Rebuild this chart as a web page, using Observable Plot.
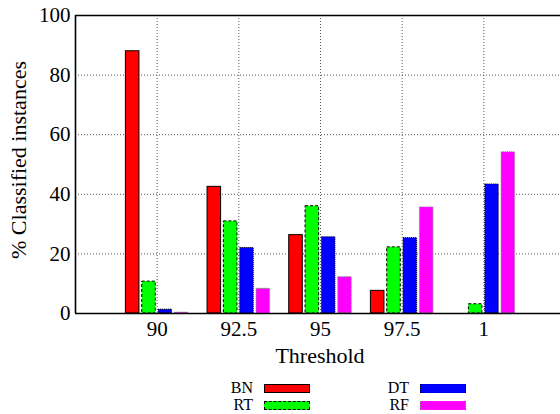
<!DOCTYPE html>
<html>
<head>
<meta charset="utf-8">
<script src="https://cdn.jsdelivr.net/npm/d3@7"></script>
<script src="https://cdn.jsdelivr.net/npm/@observablehq/plot@0.6"></script>
<style>
  html, body { margin: 0; padding: 0; background: #fff; }
  #wrap { position: relative; width: 560px; height: 414px; overflow: hidden; font-family: "Liberation Serif", "Times New Roman", Times, serif; }
  #wrap svg text { font-family: "Liberation Serif", "Times New Roman", Times, serif !important; }
  .lg-label { position: absolute; font-size: 16px; line-height: 16px; text-align: right; width: 40px; color: #000; }
  .lg-sw { position: absolute; width: 44px; height: 7px; }
</style>
</head>
<body>
<div id="wrap"></div>
<script>
// ---- data ----
const thresholds = ["90", "92.5", "95", "97.5", "1"];
const BN = [88.0, 42.5, 26.3, 7.6, 0];
const RT = [10.7, 30.9, 36.0, 22.2, 3.1];
const DT = [1.3, 22.0, 25.6, 25.3, 43.3];
const RF = [0.3, 8.3, 12.2, 35.6, 54.1];
const yTicks = [0, 20, 40, 60, 80, 100];

const FONT = "'Liberation Serif', 'Times New Roman', Times, serif";

const series = [
  {name: "BN", values: BN, fill: "#ff0000", stroke: "#000", dash: null, off: -0.3},
  {name: "RT", values: RT, fill: "#00ff00", stroke: "#000", dash: "3,2", off: -0.1},
  {name: "DT", values: DT, fill: "#0000ff", stroke: "#000", dash: "1,1", off: 0.1},
  {name: "RF", values: RF, fill: "#ff00ff", stroke: "#888", dash: "1,1", off: 0.3}
];
const hw = 0.083;
const idx = thresholds.map((t, i) => i);

const barMarks = series.map(s => Plot.rectY(
  thresholds.map((t, i) => ({i, t, v: s.values[i]})),
  {
    x1: d => d.i + s.off - hw,
    x2: d => d.i + s.off + hw,
    y1: 0,
    y2: "v",
    fill: s.fill,
    stroke: s.stroke,
    strokeWidth: 1,
    strokeDasharray: s.dash
  }
));

const chart = Plot.plot({
  width: 560,
  height: 372,
  marginTop: 15,
  marginLeft: 75,
  marginBottom: 59,
  marginRight: 0,
  style: {fontFamily: FONT, fontSize: "21px", background: "#fff", color: "#000"},
  x: {type: "linear", domain: [-1, 5], range: [75, 565]},
  y: {domain: [0, 100], range: [313, 15]},
  marks: [
    Plot.ruleY([20, 40, 60, 80], {stroke: "#555", strokeDasharray: "1,2", strokeWidth: 1}),
    Plot.ruleX(idx, {stroke: "#555", strokeDasharray: "1,2", strokeWidth: 1}),
    ...barMarks,
    Plot.ruleY([0, 100], {stroke: "#000", strokeWidth: 1.6}),
    Plot.ruleX([-1], {stroke: "#000", strokeWidth: 1.6}),
    Plot.axisY({ticks: yTicks, tickSize: 0, tickPadding: 5, label: null, fontSize: 21}),
    Plot.axisX({ticks: idx, tickSize: 0, tickPadding: 8, tickFormat: i => thresholds[i], label: null, fontSize: 21})
  ]
});

const wrap = document.getElementById("wrap");
wrap.appendChild(chart);

const svg = d3.select(chart);
svg.append("text")
  .attr("x", 320).attr("y", 355)
  .attr("text-anchor", "middle").attr("dominant-baseline", "central")
  .attr("font-family", FONT).attr("font-size", 22)
  .attr("fill", "#000")
  .text("Threshold");
svg.append("text")
  .attr("transform", "translate(18,160) rotate(-90)")
  .attr("text-anchor", "middle").attr("dominant-baseline", "central")
  .attr("font-family", FONT).attr("font-size", 22)
  .attr("fill", "#000")
  .text("% Classified instances");

// ---- legend (HTML, below the SVG) ----
const legendPos = [
  {name: "BN", lx: 213, sx: 264, y: 384},
  {name: "RT", lx: 213, sx: 264, y: 401},
  {name: "DT", lx: 369, sx: 420, y: 384},
  {name: "RF", lx: 369, sx: 420, y: 401}
];
legendPos.forEach(p => {
  const s = series.find(d => d.name === p.name);
  const lab = document.createElement("div");
  lab.className = "lg-label";
  lab.style.left = p.lx + "px";
  lab.style.top = (p.y - 4) + "px";
  lab.textContent = s.name;
  wrap.appendChild(lab);
  const sw = document.createElement("div");
  sw.className = "lg-sw";
  sw.style.left = p.sx + "px";
  sw.style.top = p.y + "px";
  sw.style.background = s.fill;
  sw.style.border = "1px " + (s.dash == null ? "solid" : (s.dash === "3,2" ? "dashed" : "dotted")) + " " + s.stroke;
  wrap.appendChild(sw);
});
</script>
</body>
</html>
